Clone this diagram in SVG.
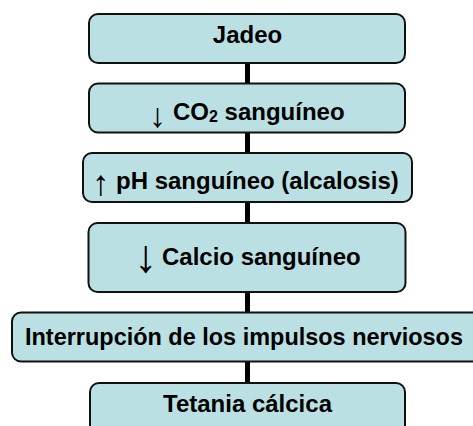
<svg xmlns="http://www.w3.org/2000/svg" width="473" height="426" viewBox="0 0 473 426">
<style>
.box{fill:#BAE0E3;stroke:#111;stroke-width:2;}
.t{font-family:"Liberation Sans",Arial,sans-serif;font-weight:bold;font-size:24px;fill:#000;text-anchor:middle;}
.s{text-anchor:start;}
.ar{font-family:"Liberation Sans",Arial,sans-serif;font-weight:normal;fill:#000;text-anchor:start;}
.con{stroke:#000;stroke-width:5;fill:none;}
</style>
<rect width="473" height="426" fill="#fff"/>
<g id="connectors">
<line class="con" x1="247.5" y1="63" x2="247.5" y2="84"/>
<line class="con" x1="247.5" y1="132" x2="247.5" y2="154"/>
<line class="con" x1="247.5" y1="202" x2="247.5" y2="224"/>
<line class="con" x1="247.5" y1="292" x2="247.5" y2="313"/>
<line class="con" x1="247.5" y1="362" x2="247.5" y2="384"/>
</g>
<g id="n1">
<rect class="box" x="89" y="14" width="316" height="49" rx="9"/>
<text class="t" x="247.5" y="43">Jadeo</text>
</g>
<g id="n2">
<rect class="box" x="89" y="83.5" width="316" height="49" rx="9"/>
<text class="ar" x="149" y="127" font-size="34">↓</text>
<text class="t s" x="173" y="120">CO<tspan font-size="16" dy="2">2</tspan><tspan dy="-2"> sanguíneo</tspan></text>
</g>
<g id="n3">
<rect class="box" x="83" y="153" width="329" height="49" rx="9"/>
<text class="ar" x="92" y="195" font-size="35">↑</text>
<text class="t s" x="116" y="189">pH sanguíneo (alcalosis)</text>
</g>
<g id="n4">
<rect class="box" x="88.5" y="223" width="317" height="69" rx="9"/>
<text class="ar" x="134" y="272" font-size="46">↓</text>
<text class="t s" x="162" y="265">Calcio sanguíneo</text>
</g>
<g id="n5">
<rect class="box" x="12" y="312.5" width="480" height="49" rx="9"/>
<text class="t s" x="25" y="345" font-size="23.5" textLength="438" lengthAdjust="spacingAndGlyphs">Interrupción de los impulsos nerviosos</text>
</g>
<g id="n6">
<rect class="box" x="90" y="383" width="315" height="60" rx="9"/>
<text class="t" x="247.5" y="412">Tetania cálcica</text>
</g>
</svg>
